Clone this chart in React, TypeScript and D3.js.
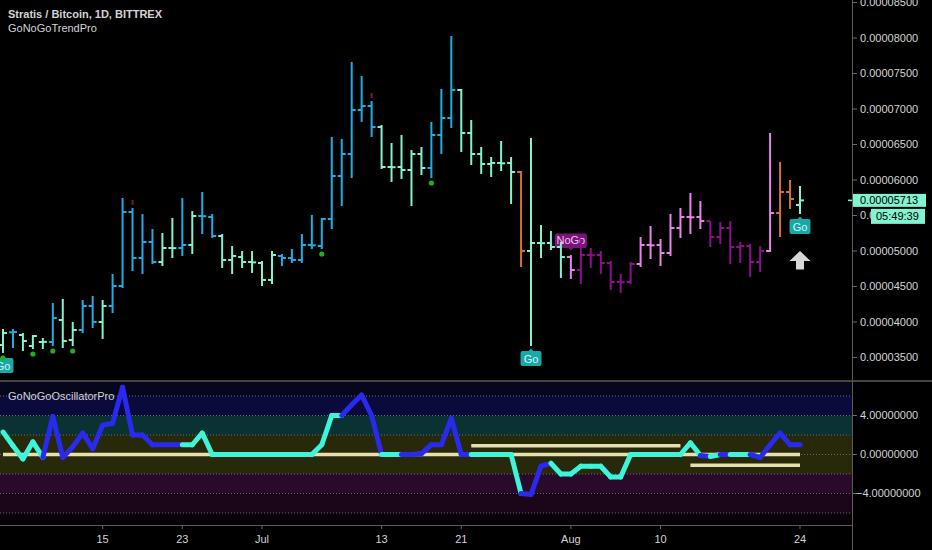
import React from "react";
import * as d3 from "d3";

// ---------- DATA ----------
const startDate = new Date(2020, 5, 5);
const endDate = new Date(2020, 7, 24);
const dates: Date[] = d3.timeDay.range(startDate, d3.timeDay.offset(endDate, 1));

// prices in satoshi (1e-8 BTC)
const opens = [
  3676, 3855, 3817, 3662, 3718, 3718, 4028, 3746, 3887, 4225,
  4000, 4225, 4507, 5549, 4901, 5127, 4845, 5042, 5042, 5085,
  5493, 5479, 5211, 4873, 4915, 4845, 4831, 4592, 4930, 4901,
  4873, 5085, 5070, 5451, 6056, 6366, 6986, 7042, 6746, 6183,
  6183, 6141, 6366, 6169, 6634, 6873, 7268, 6662, 6366, 6225,
  6240, 6240, 6113, 5000, 5113, 5113, 5056, 4915, 4732, 4944,
  4944, 4831, 4563, 4563, 4817, 5085, 5085, 4972, 5324, 5479,
  5479, 5423, 5197, 5324, 5056, 5070, 4845, 5000, 5535, 5831,
  5648,
];
const highs = [
  3887, 3887, 3831, 3803, 3761, 4253, 4310, 3986, 4296, 4352,
  4296, 4662, 5732, 5592, 5507, 5296, 5239, 5451, 5732, 5549,
  5817, 5507, 5225, 5056, 4986, 4986, 4845, 4986, 4944, 5014,
  5225, 5493, 5451, 6592, 6563, 7648, 7451, 7099, 6761, 6507,
  6620, 6408, 6451, 6803, 7268, 8014, 7268, 6831, 6451, 6310,
  6535, 6310, 6113, 6578, 5352, 5268, 5113, 4930, 5155, 5028,
  4986, 4845, 4662, 4831, 5183, 5338, 5155, 5507, 5592, 5803,
  5690, 5408, 5394, 5408, 5113, 5085, 5056, 6648, 6240, 5986,
  5901,
];
const lows = [
  3577, 3648, 3606, 3634, 3634, 3676, 3648, 3676, 3859, 3930,
  3775, 4141, 4493, 4732, 4690, 4831, 4803, 4915, 4944, 4972,
  5254, 5197, 4775, 4690, 4775, 4704, 4521, 4549, 4803, 4845,
  4845, 5042, 5042, 5324, 5648, 6042, 6831, 6620, 6169, 5986,
  6028, 5648, 6085, 6042, 6380, 6746, 6408, 6225, 6099, 6056,
  6141, 5676, 4789, 3676, 4915, 5028, 4634, 4620, 4549, 4775,
  4690, 4465, 4422, 4549, 4789, 4901, 4803, 4944, 5197, 5254,
  5324, 5070, 5113, 4831, 4845, 4648, 4718, 5000, 5211, 5606,
  5535,
];
const closes = [
  3845, 3860, 3732, 3803, 3720, 4056, 3732, 3887, 4225, 4000,
  4225, 4507, 5549, 4901, 5127, 4845, 5042, 5040, 5085, 5493,
  5490, 5211, 4873, 4930, 4845, 4840, 4592, 4944, 4901, 4873,
  5085, 5080, 5451, 6056, 6366, 6986, 7042, 6746, 6183, 6180,
  6141, 6366, 6169, 6634, 6873, 7268, 6662, 6366, 6225, 6240,
  6235, 6113, 5000, 5113, 5110, 5056, 4915, 4732, 4944, 4940,
  4831, 4563, 4560, 4817, 5085, 5080, 4972, 5324, 5479, 5475,
  5423, 5197, 5324, 5056, 5070, 4845, 5000, 5535, 5831, 5732,
  5713,
];
// B strong go, M go, O nogo-weak, P nogo, D strong nogo
const barTrend = (
  "MBMMMBMMBB" + "MBBBBBMMBM" + "BBMMMMMMBB" + "BBBBBBBBMM" +
  "MMMBBBMMMM" + "MMOMMMMPDD" + "DDDDPPPPPP" + "PDDDDDDPOO" + "M"
).split("");

const oscValues = [
  2.3, 0.9, -0.45, 1.3, -0.3, 3.9, -0.3, 0.8, 2.2, 0.6,
  3.0, 3.2, 6.9, 2.0, 2.0, 1.0, 1.0, 1.0, 1.0, 1.0,
  2.2, 0, 0, 0, 0, 0, 0, 0, 0, 0,
  0, 0, 1.0, 4.0, 4.0, 5.1, 6.1, 4.0, 0, 0,
  0, 0, 0.1, 1.0, 1.0, 3.7, 0, 0, 0, 0,
  0, 0, -4.0, -4.1, -1.2, -0.9, -2.0, -2.0, -1.2, -1.2,
  -1.2, -2.3, -2.3, 0, 0, 0, 0, 0, 0, 1.2,
  -0.1, -0.2, 0, 0, 0, 0, -0.3, 1.0, 2.2, 1.0,
  1.0,
];
const oscTrend = (
  "AAAAABBBBB" + "BBBBBBBBBA" + "AAAAAAAAAA" + "AAAAABBBBA" +
  "ABBBBBBBAA" + "AAABBBAAAA" + "AAAAAAAAAA" + "ABABAABBBB" + "B"
).split("");

const goMarks = [0, 53, 80];
const noGoMarks = [57];
const greenDots = [0, 3, 5, 7, 32, 43];
const redMarks = [13, 37];
const arrowMarks = [80];

const priceTicks = [3500, 4000, 4500, 5000, 5500, 6000, 6500, 7000, 7500, 8000, 8500];
const oscTicks = [4, 0, -4];
const oscGrid = [6, 4, 2, 0, -2, -4, -6];
const timeTickDates = [
  new Date(2020, 5, 15), new Date(2020, 5, 23), new Date(2020, 6, 1), new Date(2020, 6, 13),
  new Date(2020, 6, 21), new Date(2020, 7, 1), new Date(2020, 7, 10), new Date(2020, 7, 24),
];
const timeTickLabels = ["15", "23", "Jul", "13", "21", "Aug", "10", "24"];
const lastPriceLabel = "0.00005713";
const countdownLabel = "05:49:39";
const khakiSegments = [
  { from: 0, to: 80, value: 0 },
  { from: 47, to: 68, value: 0.9 },
  { from: 69, to: 80, value: -1.1 },
];
const oscBands = [
  { top: 9, bottom: 6, color: "#06061c" },
  { top: 6, bottom: 4, color: "#0a0a3c" },
  { top: 4, bottom: 2, color: "#0a3232" },
  { top: 2, bottom: -2, color: "#28280a" },
  { top: -2, bottom: -4, color: "#2a0a2a" },
  { top: -4, bottom: -6, color: "#1a0618" },
  { top: -6, bottom: -9, color: "#080208" },
];

// ---------- STYLE ----------
const W = 932;
const H = 550;
const AXIS_X = 852;
const FONT = "'Liberation Sans', Arial, sans-serif";
const TEXT = "#d4d4d4";
const barColors: Record<string, string> = {
  B: "#1eaee6",
  M: "#82f2cf",
  O: "#d9712c",
  P: "#ec82ec",
  D: "#8e0e8e",
};
const oscColors: Record<string, string> = { A: "#3cf5da", B: "#2a2aee" };

export default function App() {
  const x = d3.scaleTime().domain([startDate, endDate]).range([3, 800]);
  const yP = d3.scaleLinear().domain([5000, 8000]).range([251, 38]);
  const yO = d3.scaleLinear().domain([0, 4]).range([454.5, 415.5]);
  const fmt = (v: number) => (v / 1e8).toFixed(8);
  const fmtO = (v: number) => (v < 0 ? "\u2212" : "") + Math.abs(v).toFixed(8);

  const lastY = yP(closes[closes.length - 1]);

  return (
    <div style={{ position: "fixed", left: 0, top: 0, width: W, height: H }}>
      <svg width={W} height={H} style={{ display: "block", background: "#000" }} fontFamily={FONT}>
        <defs>
          <clipPath id="pricePane">
            <rect x={0} y={0} width={AXIS_X} height={381} />
          </clipPath>
          <clipPath id="oscPane">
            <rect x={0} y={382} width={AXIS_X} height={143} />
          </clipPath>
        </defs>
        <rect x={0} y={0} width={W} height={H} fill="#000" />

        {/* price pane */}
        <g clipPath="url(#pricePane)">
          {goMarks.map((i) => {
            const cx = x(dates[i]);
            const yl = yP(lows[i]);
            return (
              <g key={"go" + i}>
                <path d={`M${cx - 3},${yl + 6.5} L${cx},${yl + 3.5} L${cx + 3},${yl + 6.5} Z`} fill="#17a8a8" />
                <rect x={cx - 10.5} y={yl + 6} width={21} height={15} rx={2} fill="#17a8a8" />
                <text x={cx} y={yl + 17.5} textAnchor="middle" fontSize={11} fill="#d8f6f6">Go</text>
              </g>
            );
          })}
          {noGoMarks.map((i) => {
            const cx = x(dates[i]);
            const yh = yP(highs[i]);
            return (
              <g key={"nogo" + i}>
                <path d={`M${cx - 3},${yh - 8.5} L${cx},${yh - 5.5} L${cx + 3},${yh - 8.5} Z`} fill="#7a147a" />
                <rect x={cx - 16} y={yh - 22.5} width={32} height={14.5} rx={2} fill="#7a147a" />
                <text x={cx} y={yh - 11.5} textAnchor="middle" fontSize={11} fill="#f2c4f2">NoGo</text>
              </g>
            );
          })}
          {dates.map((d, i) => {
            const cx = x(d);
            const c = barColors[barTrend[i]];
            return (
              <g key={"bar" + i} stroke={c} strokeWidth={2}>
                <line x1={cx} x2={cx} y1={yP(highs[i]) - 1} y2={yP(lows[i]) + 1} />
                <line x1={cx - 4} x2={cx} y1={yP(opens[i])} y2={yP(opens[i])} />
                <line x1={cx} x2={cx + 4} y1={yP(closes[i])} y2={yP(closes[i])} />
              </g>
            );
          })}
          {greenDots.map((i) => (
            <circle key={"gd" + i} cx={x(dates[i])} cy={yP(lows[i]) + 6} r={2.6} fill="#1fb01f" />
          ))}
          {redMarks.map((i) => (
            <rect key={"rm" + i} x={x(dates[i]) - 1} y={yP(highs[i]) - 9} width={2} height={5} fill="#8a1414" />
          ))}
          {arrowMarks.map((i) => {
            const cx = x(dates[i]);
            const t = yP(lows[i]) + 38;
            return (
              <path
                key={"ar" + i}
                d={`M${cx},${t} L${cx + 10.5},${t + 10} L${cx + 4},${t + 10} L${cx + 4},${t + 18.5} L${cx - 4},${t + 18.5} L${cx - 4},${t + 10} L${cx - 10.5},${t + 10} Z`}
                fill="#d6d6d6"
              />
            );
          })}
        </g>

        {/* titles */}
        <text x={8} y={18} fontSize={11} fontWeight="bold" fill={TEXT}>Stratis / Bitcoin, 1D, BITTREX</text>
        <text x={8} y={32} fontSize={11} fill={TEXT}>GoNoGoTrendPro</text>

        {/* oscillator pane */}
        <g clipPath="url(#oscPane)">
          {oscBands.map((b, k) => (
            <rect key={"band" + k} x={0} y={yO(b.top)} width={AXIS_X} height={yO(b.bottom) - yO(b.top)} fill={b.color} />
          ))}
          {oscGrid.map((g) => (
            <line key={"og" + g} x1={0} x2={AXIS_X} y1={yO(g)} y2={yO(g)} stroke="#6a6a6a" strokeWidth={1} strokeDasharray="1,2" />
          ))}
          {khakiSegments.map((s, k) => (
            <line
              key={"kh" + k}
              x1={x(dates[s.from])}
              x2={x(dates[s.to])}
              y1={yO(s.value)}
              y2={yO(s.value)}
              stroke="#e6dfae"
              strokeWidth={3.5}
            />
          ))}
          {dates.slice(1).map((d, k) => {
            const i = k + 1;
            return (
              <line
                key={"os" + i}
                x1={x(dates[i - 1])}
                y1={yO(oscValues[i - 1])}
                x2={x(d)}
                y2={yO(oscValues[i])}
                stroke={oscColors[oscTrend[i]]}
                strokeWidth={5}
                strokeLinecap="round"
              />
            );
          })}
        </g>
        <text x={8} y={399.5} fontSize={11} fill={TEXT}>GoNoGoOscillatorPro</text>

        {/* pane borders */}
        <line x1={0} x2={W} y1={381} y2={381} stroke="#5a5a5a" strokeWidth={1.5} />
        <line x1={0} x2={AXIS_X} y1={525.5} y2={525.5} stroke="#5a5a5a" strokeWidth={1} />
        <line x1={AXIS_X + 0.5} x2={AXIS_X + 0.5} y1={0} y2={H} stroke="#5a5a5a" strokeWidth={1} />

        {/* price axis */}
        {priceTicks.map((p) => (
          <g key={"pt" + p}>
            <line x1={AXIS_X} x2={AXIS_X + 5} y1={yP(p)} y2={yP(p)} stroke="#6a6a6a" />
            <text x={860} y={yP(p)} dy="0.35em" fontSize={11} fill={TEXT}>{fmt(p)}</text>
          </g>
        ))}
        <line x1={AXIS_X - 4} x2={AXIS_X} y1={lastY} y2={lastY} stroke={barColors.M} strokeWidth={1.5} />
        <rect x={AXIS_X + 1} y={lastY - 6.5} width={73} height={13} fill={barColors.M} />
        <text x={860} y={lastY} dy="0.35em" fontSize={11} fill="#000">{lastPriceLabel}</text>
        <rect x={871} y={lastY + 8.5} width={54} height={15} fill={barColors.M} />
        <text x={876} y={lastY + 16} dy="0.35em" fontSize={11} fill="#000">{countdownLabel}</text>

        {/* oscillator axis */}
        {oscTicks.map((v) => (
          <g key={"ot" + v}>
            <line x1={AXIS_X} x2={AXIS_X + 5} y1={yO(v)} y2={yO(v)} stroke="#6a6a6a" />
            <text x={v < 0 ? 856 : 860} y={yO(v)} dy="0.35em" fontSize={11} fill={TEXT}>{fmtO(v)}</text>
          </g>
        ))}

        {/* time axis */}
        {timeTickDates.map((d, k) => (
          <g key={"tt" + k}>
            <line x1={x(d)} x2={x(d)} y1={525.5} y2={529} stroke="#6a6a6a" />
            <text x={x(d)} y={543} textAnchor="middle" fontSize={11} fill={TEXT}>{timeTickLabels[k]}</text>
          </g>
        ))}
      </svg>
    </div>
  );
}
